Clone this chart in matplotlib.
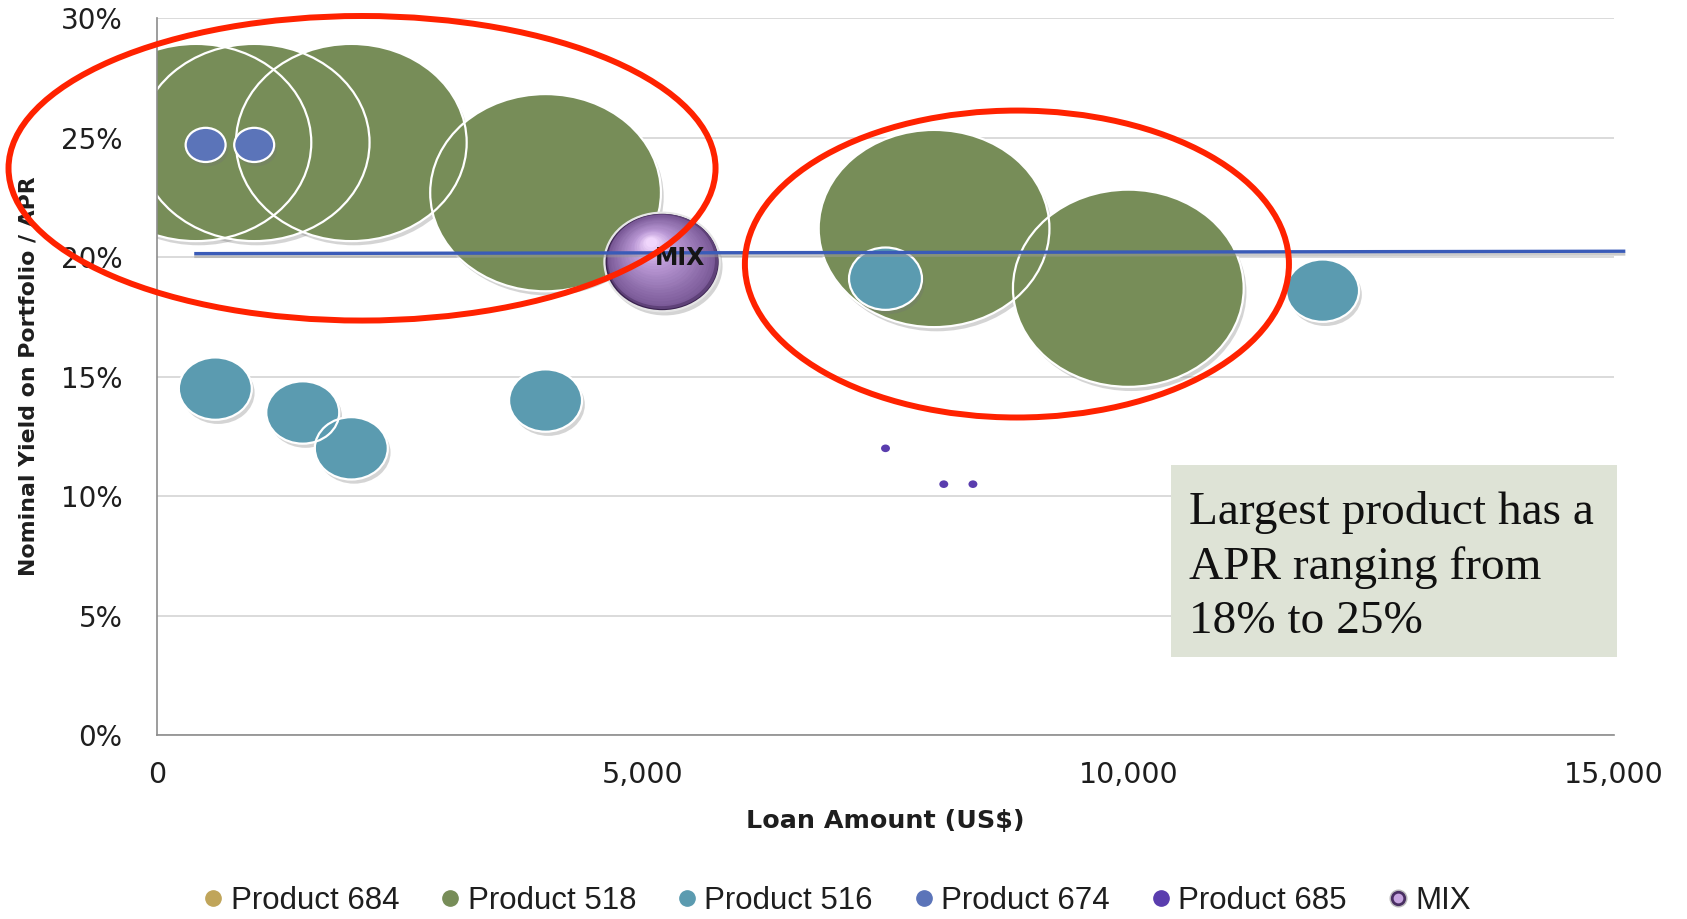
import numpy as np
import matplotlib
matplotlib.use("Agg")
import matplotlib.pyplot as plt
import matplotlib.patheffects as pe
from matplotlib.markers import MarkerStyle
from matplotlib.path import Path
from matplotlib.patches import Ellipse, Rectangle
from matplotlib.lines import Line2D
from matplotlib.legend_handler import HandlerTuple
from matplotlib.transforms import Affine2D, ScaledTranslation
from matplotlib.colors import to_rgb
from matplotlib.ticker import FuncFormatter, MultipleLocator

# loan amount (US$), nominal yield (%), bubble size (portfolio weight)
p684_amount = []
p684_yield = []
p684_size = []

p518_amount = [400, 1000, 2000, 4000, 8000, 10000]
p518_yield = [24.8, 24.8, 24.8, 22.7, 21.2, 18.7]
p518_size = [100, 100, 100, 100, 100, 100]

p516_amount = [600, 1500, 2000, 4000, 7500, 12000]
p516_yield = [14.5, 13.5, 12.0, 14.0, 19.1, 18.6]
p516_size = [10, 10, 10, 10, 10, 10]

p674_amount = [500, 1000]
p674_yield = [24.7, 24.7]
p674_size = [3, 3]

p685_amount = [7500, 8100, 8400]
p685_yield = [12.0, 10.5, 10.5]
p685_size = [0.15, 0.15, 0.15]

mix_amount = [5200]
mix_yield = [19.8]
mix_size = [25]

# average yield line
avg_amount = [400, 15100]
avg_yield = [20.15, 20.25]

series_names = ["Product 684", "Product 518", "Product 516", "Product 674", "Product 685", "MIX"]
series_colors = ["#C0A55A", "#778D58", "#5B9BB0", "#5B74B9", "#5A3DAE", "#8E6BB0"]

note_text = "Largest product has a\nAPR ranging from\n18% to 25%"

SCALE = 276.0  # scatter area (pt^2) per unit of bubble size

fig = plt.figure(figsize=(16.87, 9.19), dpi=100)
ax = fig.add_axes([0.0931, 0.2002, 0.8636, 0.7799])

# bubbles come out slightly wider than tall
ell = Path.unit_circle().transformed(Affine2D().scale(1.17, 1.0))
bubble = MarkerStyle(ell)

shadow = [pe.SimplePatchShadow(offset=(2, -3), shadow_rgbFace=(0.45, 0.45, 0.45), alpha=0.3),
          pe.Normal()]


def bubbles(x, y, size, color, z, edge=True):
    s = np.asarray(size, dtype=float) * SCALE
    ax.scatter(x, y, s=s, marker=bubble, color=color, linewidths=0, zorder=z,
               path_effects=shadow if edge else None)
    if edge:
        ax.scatter(x, y, s=s, marker=bubble, facecolors="none", edgecolors="white",
                   linewidths=1.6, zorder=z + 0.1)


def mix_color(t):
    stops = [(0.0, "#43295a"), (0.08, "#7b5a98"), (0.35, "#9676b3"),
             (0.70, "#bb99d6"), (1.0, "#f0d6fc")]
    for (t0, c0), (t1, c1) in zip(stops[:-1], stops[1:]):
        if t <= t1:
            a = (t - t0) / (t1 - t0)
            return tuple((1 - a) * np.array(to_rgb(c0)) + a * np.array(to_rgb(c1)))
    return to_rgb(stops[-1][1])


def sphere(x, y, size, z):
    s0 = np.asarray(size, dtype=float) * SCALE
    w = np.sqrt(s0[0])
    ax.scatter(x, y, s=s0, marker=bubble, color="#3a2250", edgecolors="#e6e6e6",
               linewidths=1.6, zorder=z, path_effects=shadow)
    for t in np.linspace(0.04, 1, 24):
        f = 1 - 0.9 * t
        dx, dy = -0.10 * w * t, 0.17 * w * t
        tr = ax.transData + ScaledTranslation(dx / 72, dy / 72, fig.dpi_scale_trans)
        ax.scatter(x, y, s=s0 * f * f, marker=bubble, color=[mix_color(t)],
                   linewidths=0, zorder=z, transform=tr)


bubbles(p684_amount, p684_yield, p684_size, series_colors[0], 2)
bubbles(p518_amount, p518_yield, p518_size, series_colors[1], 2)
bubbles(p516_amount, p516_yield, p516_size, series_colors[2], 3)
bubbles(p674_amount, p674_yield, p674_size, series_colors[3], 4)
bubbles(p685_amount, p685_yield, p685_size, series_colors[4], 5, edge=False)
sphere(mix_amount, mix_yield, mix_size, 6)

ax.plot(avg_amount, avg_yield, color="#3A5BB8", lw=2.4, zorder=7, clip_on=False,
        path_effects=[pe.SimpleLineShadow(offset=(0, -2), shadow_color="0.6", alpha=0.5),
                      pe.Normal()])
ax.annotate("MIX", (mix_amount[0], mix_yield[0]), xytext=(-5, 3), textcoords="offset points",
            ha="left", va="center", fontsize=17, fontweight="bold", color="#151515", zorder=8)

ax.set_xlim(0, 15000)
ax.set_ylim(0, 30)
ax.xaxis.set_major_locator(MultipleLocator(5000))
ax.yaxis.set_major_locator(MultipleLocator(5))
ax.xaxis.set_major_formatter(FuncFormatter(lambda v, p: "{:,.0f}".format(v)))
ax.yaxis.set_major_formatter(FuncFormatter(lambda v, p: "{:.0f}%".format(v)))
ax.tick_params(length=0, labelsize=20, labelcolor="#1e1e1e")
ax.tick_params(axis="x", labelsize=20.5, pad=19)
ax.tick_params(axis="y", pad=25)
ax.grid(axis="y", color="#D4D4D4", lw=1.2, zorder=0)
ax.set_axisbelow(True)
for side in ["top", "right"]:
    ax.spines[side].set_visible(False)
for side in ["left", "bottom"]:
    ax.spines[side].set_color("#8C8C8C")
    ax.spines[side].set_linewidth(1.2)

ax.set_xlabel("Loan Amount (US$)", fontsize=18.3, fontweight="bold", color="#1e1e1e")
ax.xaxis.label.set_va("center")
ax.xaxis.set_label_coords(0.5, -0.12)
ax.set_ylabel("Nominal Yield on Portfolio / APR", fontsize=15.8, fontweight="bold", color="#1e1e1e")
ax.yaxis.label.set_va("center")
ax.yaxis.set_label_coords(-0.0885, 0.5)

# legend
handles = [Line2D([], [], ls="none", marker="o", ms=11, mfc=c, mec=c) for c in series_colors[:5]]
handles.append((Line2D([], [], ls="none", marker="o", ms=12, mfc="#4a2f63", mec="#bbbbbb"),
                Line2D([], [], ls="none", marker="o", ms=7, mfc="#c7a5e0", mec="none")))
fig.legend(handles, series_names, loc="center", bbox_to_anchor=(0.496, 0.02), ncol=6,
           frameon=False, handler_map={tuple: HandlerTuple(ndivide=1)},
           prop={"family": "Liberation Sans", "size": 22.5}, handlelength=0.7,
           handletextpad=0.2, columnspacing=1.29, labelcolor="#1e1e1e")

# callout ellipses around the two green clusters
fig.add_artist(Ellipse((0.2146, 0.8169), 0.4191, 0.3314, transform=fig.transFigure,
                       fill=False, ec="#FF2200", lw=4.3, zorder=10))
fig.add_artist(Ellipse((0.6028, 0.7127), 0.3225, 0.334, transform=fig.transFigure,
                       fill=False, ec="#FF2200", lw=4.3, zorder=10))

# note box
fig.add_artist(Rectangle((0.6939, 0.2847), 0.2646, 0.2096, transform=fig.transFigure,
                         fc="#DEE3D6", ec="none", zorder=9))
fig.text(0.7048, 0.466, note_text, fontsize=34, family="Liberation Serif", color="#111111",
         ha="left", va="top", linespacing=1.37, zorder=11)

fig.savefig("out.png", dpi=100)
